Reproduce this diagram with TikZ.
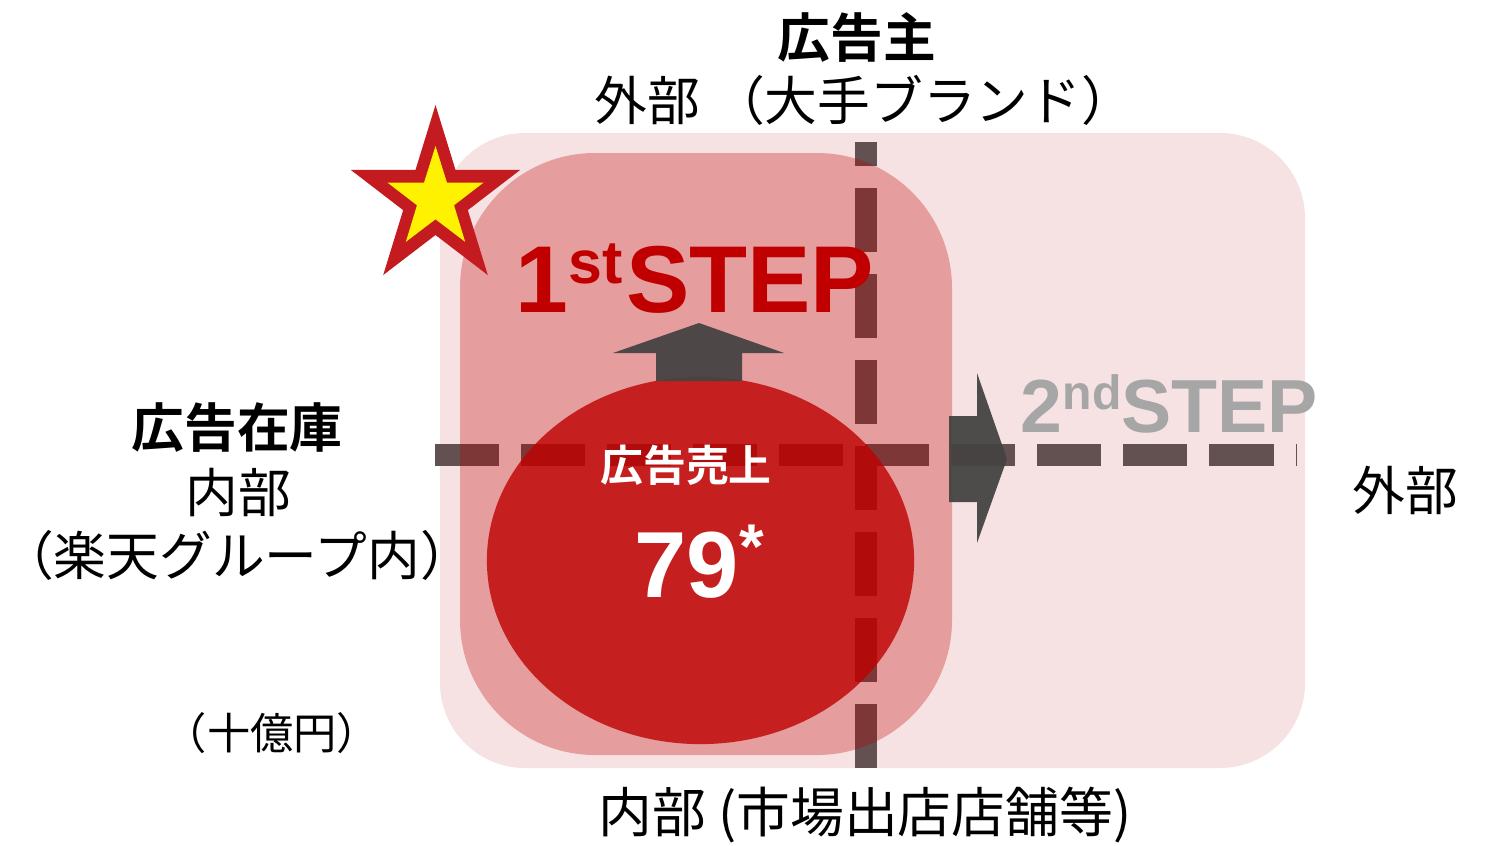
\documentclass[tikz,border=0pt]{standalone}
\usepackage{fontspec}
\setmainfont{Liberation Sans}
\newfontfamily\jp{Noto Sans CJK JP}[BoldFont={Noto Sans CJK JP Bold}]
\definecolor{palepink}{HTML}{F6E2E2}
\definecolor{deepred}{HTML}{BE0000}
\definecolor{stepred}{HTML}{C00000}
\definecolor{dashgray}{HTML}{635050}
\definecolor{arrowgray}{HTML}{464343}
\definecolor{stepgray}{HTML}{A6A6A6}
\definecolor{starred}{HTML}{C31B20}
\tikzset{
  axis/.style={dashgray, line width=0.22cm, dash pattern=on 0.64cm off 0.22cm},
  head/.style={font=\jp\bfseries\fontsize{15}{18}\selectfont, inner sep=0},
  sub/.style={font=\jp\fontsize{15}{18}\selectfont, inner sep=0},
  unit/.style={font=\jp\fontsize{12.3}{15}\selectfont, inner sep=0},
  blockarrow/.style={fill=arrowgray, fill opacity=0.95},
}
\begin{document}
\begin{tikzpicture}[x=0.01cm, y=-0.01cm]
	\useasboundingbox (0,0) rectangle (1495,845);
	\fill[palepink, rounded corners=0.85cm] (440,133) rectangle (1305,768);
	\coordinate (hstart) at (435,455);
	\coordinate (hend) at (1297,455);
	\coordinate (vstart) at (866,768);
	\coordinate (vend) at (866,142);
	\draw[axis] (hstart) -- (hend);
	\draw[axis] (vstart) -- (vend);
	\fill[deepred, fill opacity=0.3, rounded corners=1.35cm] (460,153) rectangle (952,755);
	\fill[deepred, fill opacity=0.8] (700.5,560.5) ellipse [x radius=2.135cm, y radius=1.835cm];
	\fill[blockarrow] (656,381) -- (656,353) -- (613,353) -- (699,323) -- (784,353) -- (742,353) -- (742,381) -- cycle;
	\fill[blockarrow] (949,416) -- (977,416) -- (977,373) -- (1007,459) -- (977,543) -- (977,502) -- (949,502) -- cycle;
	\fill[starred] plot[samples at={0,...,9}, variable=\k] ({435.5+(isodd(\k)?34:89)*cos(-90+36*\k)}, {199+(isodd(\k)?36:94)*sin(-90+36*\k)}) -- cycle;
	\fill[yellow] plot[samples at={0,...,9}, variable=\k] ({435.5+(isodd(\k)?19.5:50.5)*cos(-90+36*\k)}, {199+(isodd(\k)?20.3:53)*sin(-90+36*\k)}) -- cycle;
	\node[head] (advertiser) at (857,38) {広告主};
	\node[sub, anchor=west] (brand) at (594,100) {外部 （大手ブランド）};
	\node[head] (inventory) at (237,428) {広告在庫};
	\node[sub] (inner) at (238,492) {内部};
	\node[sub] (group) at (237,555) {（楽天グループ内）};
	\node[sub] (outer) at (1405,490) {外部};
	\node[unit] (unit) at (272,733) {（十億円）};
	\node[sub, font=\jp\fontsize{15.3}{18}\selectfont] (market) at (865,815) {内部 (市場出店店舗等)};
	\node[anchor=base west, inner sep=0, stepred, font=\bfseries\fontsize{27}{30}\selectfont] (first) at (515,312) {1\raisebox{8pt}{\fontsize{17.3}{17}\selectfont st}\kern1pt STEP};
	\node[anchor=base west, inner sep=0, stepgray, font=\bfseries\fontsize{21.4}{25}\selectfont] (second) at (1020,432) {2\raisebox{6.3pt}{\fontsize{13.7}{14}\selectfont nd}STEP};
	\node[head, white, font=\jp\bfseries\fontsize{12.2}{14}\selectfont] (salestitle) at (686,465) {広告売上};
	\node[anchor=base west, inner sep=0, white, font=\bfseries\fontsize{26.7}{30}\selectfont] (sales) at (634,597) {79\raisebox{8pt}{\fontsize{18}{18}\selectfont *}};
	%\node[sub] at (1405,540) {};
\end{tikzpicture}
\end{document}
